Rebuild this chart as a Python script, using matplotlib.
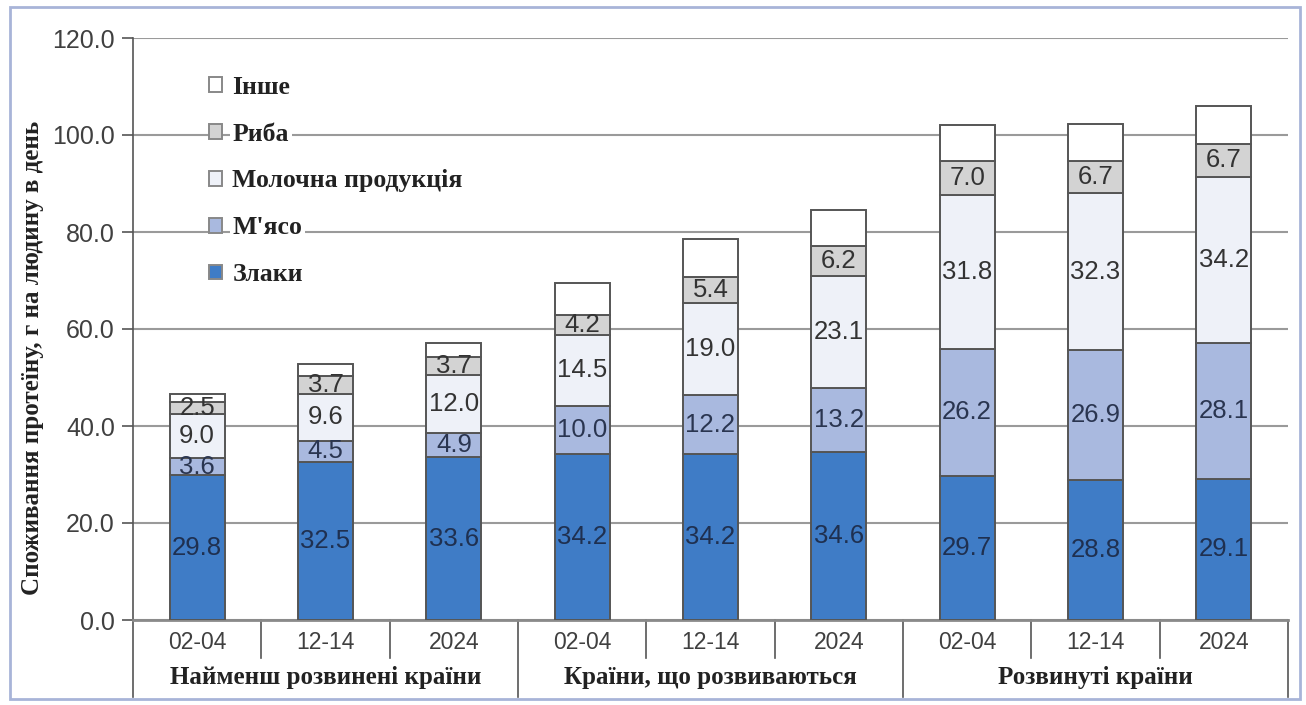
import numpy as np
import matplotlib.pyplot as plt
from matplotlib.patches import Rectangle

periods = ["02-04", "12-14", "2024"] * 3
groups = ["Найменш розвинені країни", "Країни, що розвиваються", "Розвинуті країни"]

cereals = [29.8, 32.5, 33.6, 34.2, 34.2, 34.6, 29.7, 28.8, 29.1]
meat = [3.6, 4.5, 4.9, 10.0, 12.2, 13.2, 26.2, 26.9, 28.1]
dairy = [9.0, 9.6, 12.0, 14.5, 19.0, 23.1, 31.8, 32.3, 34.2]
fish = [2.5, 3.7, 3.7, 4.2, 5.4, 6.2, 7.0, 6.7, 6.7]
other = [1.8, 2.4, 3.0, 6.6, 7.8, 7.5, 7.4, 7.6, 7.8]

series = [
    ("Злаки", cereals, "#3f7cc6", "#1f3050"),
    ("М'ясо", meat, "#a9b9df", "#2a3550"),
    ("Молочна продукція", dairy, "#eef1f8", "#333333"),
    ("Риба", fish, "#d3d3d3", "#333333"),
    ("Інше", other, "#ffffff", None),
]

fig = plt.figure(figsize=(13.06, 7.05), dpi=100)
ax = fig.add_axes([133 / 1306, 85 / 705, 1155 / 1306, 582 / 705])

# outer frame
fig.patches.append(Rectangle((10 / 1306, 6 / 705), 1290 / 1306, 692 / 705,
                             transform=fig.transFigure, fill=False,
                             edgecolor="#a8b4d8", linewidth=2))

x = np.arange(len(periods))
bottom = np.zeros(len(periods))
handles = []
for name, vals, color, tcolor in series:
    vals = np.array(vals)
    bars = ax.bar(x, vals, 0.43, bottom=bottom, color=color, edgecolor="#555555",
                  linewidth=1.4, label=name, zorder=3)
    handles.append(bars)
    if tcolor:
        for xi, b, v in zip(x, bottom, vals):
            ax.text(xi, b + v / 2, f"{v:.1f}", ha="center", va="center",
                    fontsize=18.5, color=tcolor, family="Liberation Sans", zorder=4)
    bottom += vals

ax.set_xlim(-0.5, 8.5)
ax.set_ylim(0, 120)
ax.set_yticks(np.arange(0, 121, 20))
ax.set_yticklabels([f"{v:.1f}" for v in np.arange(0, 121, 20)],
                   fontsize=18, color="#404040", family="Liberation Sans")
ax.yaxis.grid(True, color="#9a9a9a", linewidth=1.5, zorder=0)
ax.tick_params(axis="y", length=8, width=1.2, color="#555555", pad=5)
for s in ["top", "right"]:
    ax.spines[s].set_visible(False)
ax.spines["left"].set_color("#555555")
ax.spines["left"].set_linewidth(1.2)
ax.spines["bottom"].set_color("#8a8a8a")
ax.spines["bottom"].set_linewidth(2)

ax.set_xticks(x)
ax.set_xticklabels(periods, fontsize=16.5, color="#404040", family="Liberation Sans")
ax.tick_params(axis="x", length=0, pad=8)

trans = ax.get_xaxis_transform()
for sep in np.arange(-0.5, 9, 1):
    low = -0.132 if sep in (-0.5, 2.5, 5.5, 8.5) else -0.065
    ax.plot([sep, sep], [0, low], color="#555555", linewidth=1.2,
            transform=trans, clip_on=False)
for i, g in enumerate(groups):
    ax.text(3 * i + 1, -0.098, g, transform=trans, ha="center", va="center",
            fontsize=18, fontweight="bold", family="Liberation Serif", color="#222222")

ax.set_ylabel("Споживання протеїну, г на людину в день", fontsize=18,
              fontweight="bold", family="Liberation Serif", color="#222222")
ax.yaxis.set_label_coords(-0.077, 0.45)

leg = ax.legend(handles[::-1], [s[0] for s in series][::-1], loc="upper left",
                bbox_to_anchor=(0.046, 0.975), frameon=False, handlelength=0.5,
                handleheight=0.5, handletextpad=0.4, labelspacing=0.93,
                prop={"family": "Liberation Serif", "weight": "bold", "size": 18.5})
for t in leg.get_texts():
    t.set_color("#222222")
    t.set_bbox(dict(facecolor="white", edgecolor="none", pad=2))
for h in leg.legend_handles:
    h.set_edgecolor("#888888")

fig.savefig("out.png", dpi=100)
